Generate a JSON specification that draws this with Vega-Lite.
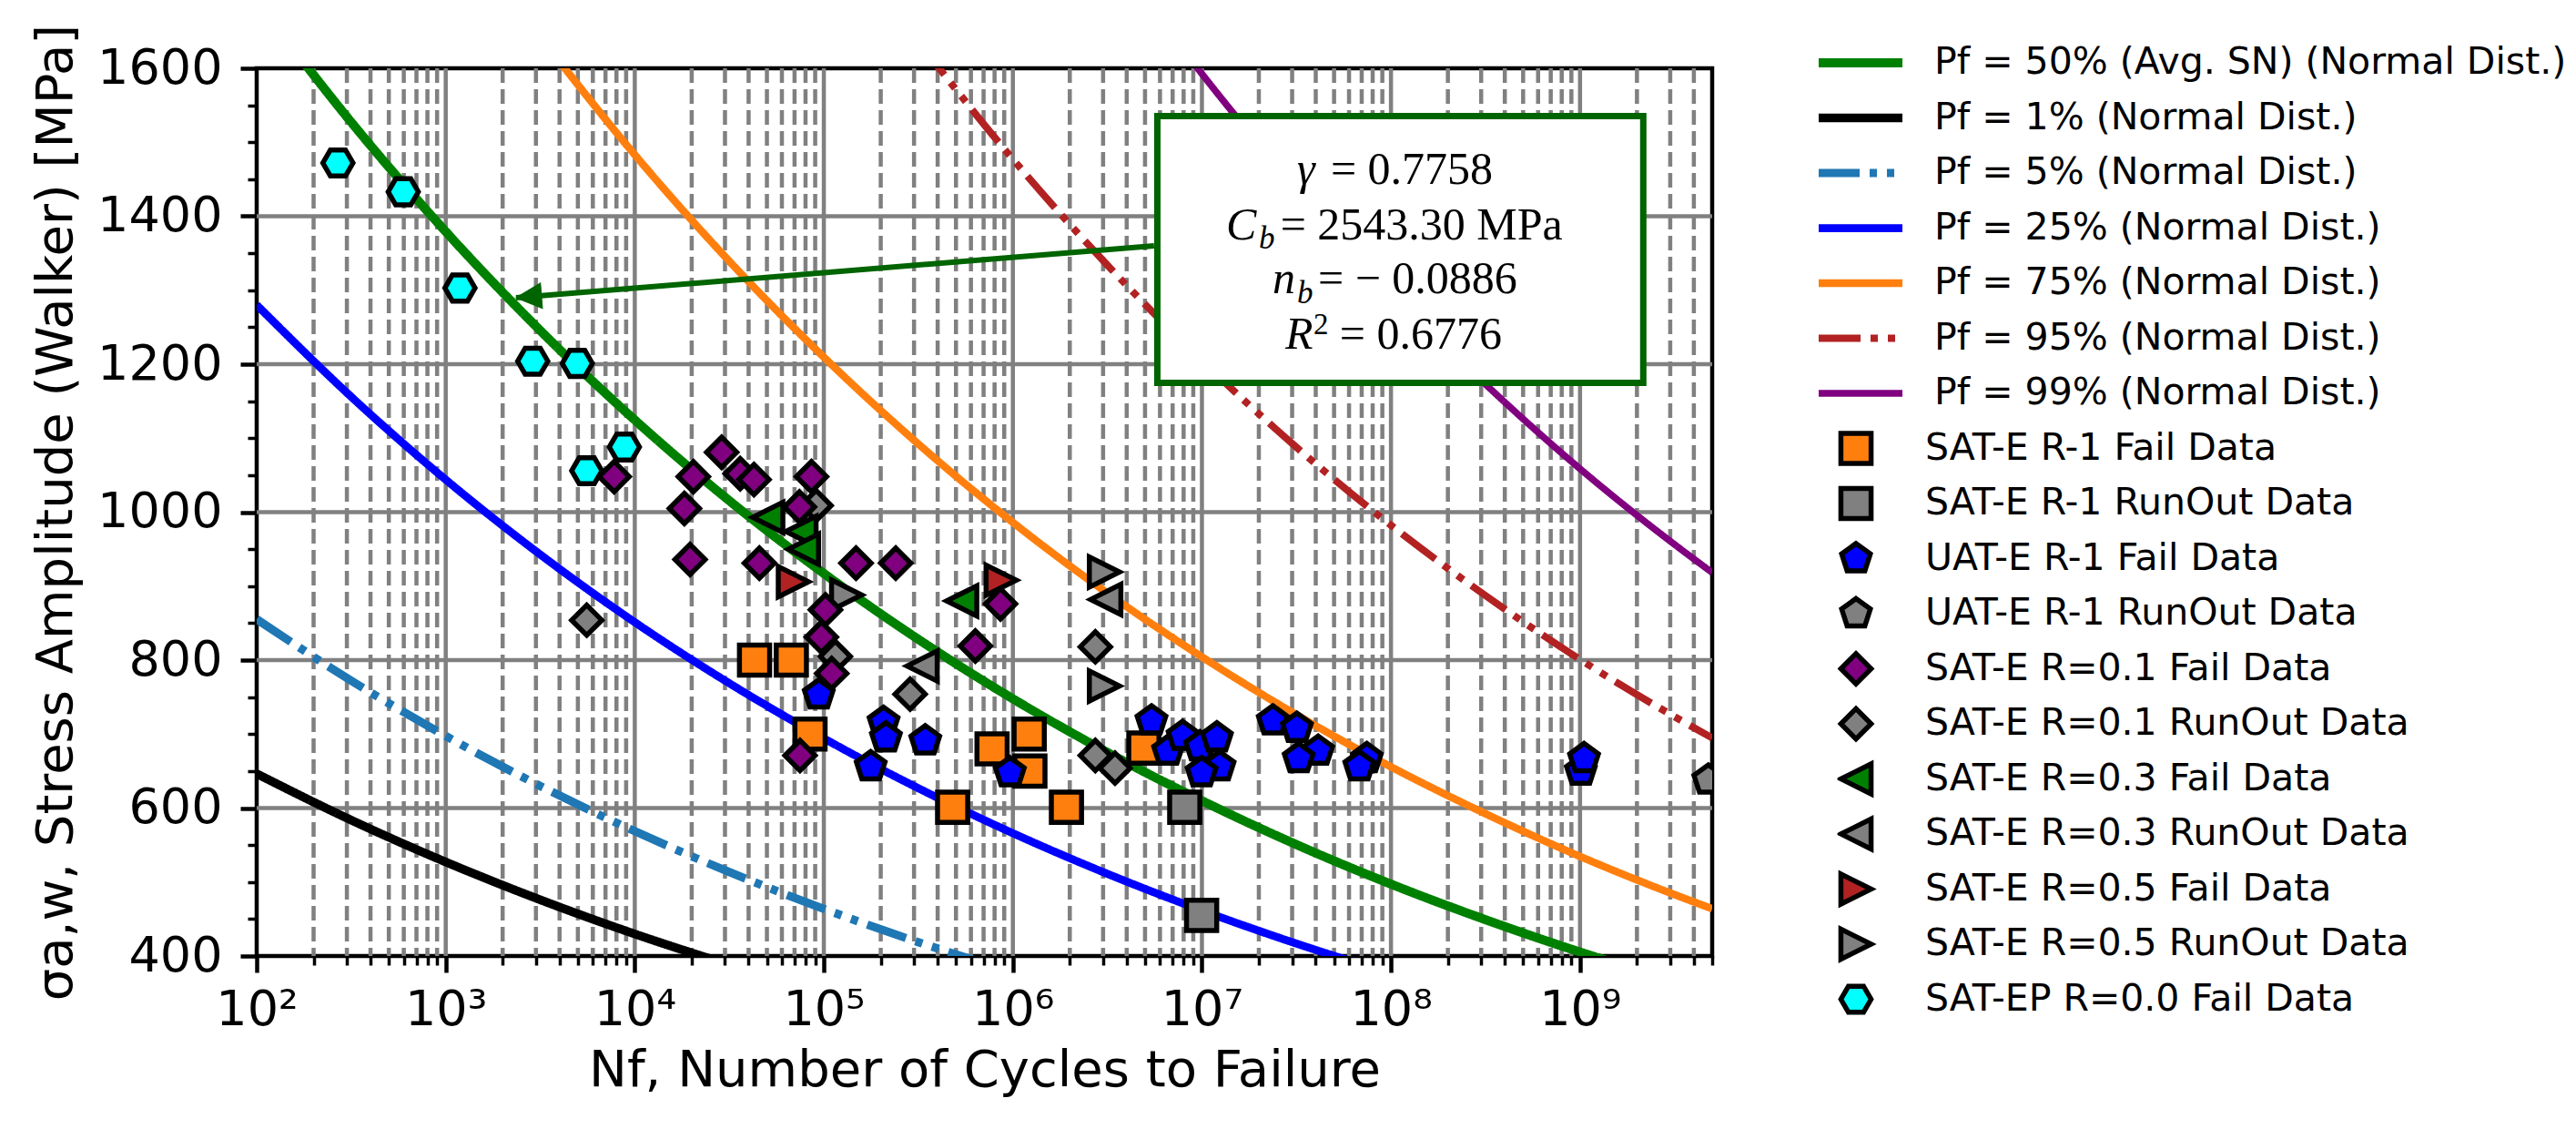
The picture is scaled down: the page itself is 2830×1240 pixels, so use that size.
{
  "$schema": "https://vega.github.io/schema/vega-lite/v6.json",
  "width": 1599,
  "height": 975,
  "autosize": {"type": "none"},
  "padding": {"left": 282, "top": 75, "right": 949, "bottom": 190},
  "background": "white",
  "config": {
    "view": {"stroke": "black", "strokeWidth": 4.5},
    "font": "DejaVu Sans"
  },
  "datasets": {
    "minorX": [
      {"N": 200}, {"N": 300}, {"N": 400}, {"N": 500}, {"N": 600}, {"N": 700}, {"N": 800}, {"N": 900},
      {"N": 2000}, {"N": 3000}, {"N": 4000}, {"N": 5000}, {"N": 6000}, {"N": 7000}, {"N": 8000}, {"N": 9000},
      {"N": 20000}, {"N": 30000}, {"N": 40000}, {"N": 50000}, {"N": 60000}, {"N": 70000}, {"N": 80000}, {"N": 90000},
      {"N": 200000}, {"N": 300000}, {"N": 400000}, {"N": 500000}, {"N": 600000}, {"N": 700000}, {"N": 800000}, {"N": 900000},
      {"N": 2000000}, {"N": 3000000}, {"N": 4000000}, {"N": 5000000}, {"N": 6000000}, {"N": 7000000}, {"N": 8000000}, {"N": 9000000},
      {"N": 20000000}, {"N": 30000000}, {"N": 40000000}, {"N": 50000000}, {"N": 60000000}, {"N": 70000000}, {"N": 80000000}, {"N": 90000000},
      {"N": 200000000}, {"N": 300000000}, {"N": 400000000}, {"N": 500000000}, {"N": 600000000}, {"N": 700000000}, {"N": 800000000}, {"N": 900000000},
      {"N": 2000000000}, {"N": 3000000000}, {"N": 4000000000}
    ],
    "majorX": [
      {"N": 1000}, {"N": 10000}, {"N": 100000}, {"N": 1000000}, {"N": 10000000}, {"N": 100000000}, {"N": 1000000000}
    ],
    "majorY": [{"S": 600}, {"S": 800}, {"S": 1000}, {"S": 1200}, {"S": 1400}],
    "curves": [
      {"series": "Pf = 50% (Avg. SN) (Normal Dist.)", "N": 100, "S": 1691.3},
      {"series": "Pf = 50% (Avg. SN) (Normal Dist.)", "N": 316.23, "S": 1527.2},
      {"series": "Pf = 50% (Avg. SN) (Normal Dist.)", "N": 1000, "S": 1379.2},
      {"series": "Pf = 50% (Avg. SN) (Normal Dist.)", "N": 3162.3, "S": 1245.5},
      {"series": "Pf = 50% (Avg. SN) (Normal Dist.)", "N": 10000, "S": 1124.6},
      {"series": "Pf = 50% (Avg. SN) (Normal Dist.)", "N": 31623, "S": 1015.5},
      {"series": "Pf = 50% (Avg. SN) (Normal Dist.)", "N": 100000, "S": 917.1},
      {"series": "Pf = 50% (Avg. SN) (Normal Dist.)", "N": 316228, "S": 828.1},
      {"series": "Pf = 50% (Avg. SN) (Normal Dist.)", "N": 1000000, "S": 747.7},
      {"series": "Pf = 50% (Avg. SN) (Normal Dist.)", "N": 3162278, "S": 675.2},
      {"series": "Pf = 50% (Avg. SN) (Normal Dist.)", "N": 10000000, "S": 609.9},
      {"series": "Pf = 50% (Avg. SN) (Normal Dist.)", "N": 31622777, "S": 550.6},
      {"series": "Pf = 50% (Avg. SN) (Normal Dist.)", "N": 100000000, "S": 497.2},
      {"series": "Pf = 50% (Avg. SN) (Normal Dist.)", "N": 316227766, "S": 449.1},
      {"series": "Pf = 50% (Avg. SN) (Normal Dist.)", "N": 1000000000, "S": 405.4},
      {"series": "Pf = 50% (Avg. SN) (Normal Dist.)", "N": 3162277660, "S": 366.2},
      {"series": "Pf = 1% (Normal Dist.)", "N": 100, "S": 646.4},
      {"series": "Pf = 1% (Normal Dist.)", "N": 316.23, "S": 583.7},
      {"series": "Pf = 1% (Normal Dist.)", "N": 1000, "S": 527.1},
      {"series": "Pf = 1% (Normal Dist.)", "N": 3162.3, "S": 476.0},
      {"series": "Pf = 1% (Normal Dist.)", "N": 10000, "S": 429.8},
      {"series": "Pf = 1% (Normal Dist.)", "N": 31623, "S": 388.1},
      {"series": "Pf = 5% (Normal Dist.)", "N": 100, "S": 855.2},
      {"series": "Pf = 5% (Normal Dist.)", "N": 316.23, "S": 772.2},
      {"series": "Pf = 5% (Normal Dist.)", "N": 1000, "S": 697.4},
      {"series": "Pf = 5% (Normal Dist.)", "N": 3162.3, "S": 629.8},
      {"series": "Pf = 5% (Normal Dist.)", "N": 10000, "S": 568.7},
      {"series": "Pf = 5% (Normal Dist.)", "N": 31623, "S": 513.5},
      {"series": "Pf = 5% (Normal Dist.)", "N": 100000, "S": 463.7},
      {"series": "Pf = 5% (Normal Dist.)", "N": 316228, "S": 418.7},
      {"series": "Pf = 5% (Normal Dist.)", "N": 1000000, "S": 378.1},
      {"series": "Pf = 25% (Normal Dist.)", "N": 100, "S": 1280.1},
      {"series": "Pf = 25% (Normal Dist.)", "N": 316.23, "S": 1156.0},
      {"series": "Pf = 25% (Normal Dist.)", "N": 1000, "S": 1043.9},
      {"series": "Pf = 25% (Normal Dist.)", "N": 3162.3, "S": 942.7},
      {"series": "Pf = 25% (Normal Dist.)", "N": 10000, "S": 851.2},
      {"series": "Pf = 25% (Normal Dist.)", "N": 31623, "S": 768.7},
      {"series": "Pf = 25% (Normal Dist.)", "N": 100000, "S": 694.2},
      {"series": "Pf = 25% (Normal Dist.)", "N": 316228, "S": 626.8},
      {"series": "Pf = 25% (Normal Dist.)", "N": 1000000, "S": 566.0},
      {"series": "Pf = 25% (Normal Dist.)", "N": 3162278, "S": 511.1},
      {"series": "Pf = 25% (Normal Dist.)", "N": 10000000, "S": 461.6},
      {"series": "Pf = 25% (Normal Dist.)", "N": 31622777, "S": 416.8},
      {"series": "Pf = 25% (Normal Dist.)", "N": 100000000, "S": 376.3},
      {"series": "Pf = 75% (Normal Dist.)", "N": 3162.3, "S": 1642.5},
      {"series": "Pf = 75% (Normal Dist.)", "N": 10000, "S": 1483.1},
      {"series": "Pf = 75% (Normal Dist.)", "N": 31623, "S": 1339.2},
      {"series": "Pf = 75% (Normal Dist.)", "N": 100000, "S": 1209.5},
      {"series": "Pf = 75% (Normal Dist.)", "N": 316228, "S": 1092.1},
      {"series": "Pf = 75% (Normal Dist.)", "N": 1000000, "S": 986.1},
      {"series": "Pf = 75% (Normal Dist.)", "N": 3162278, "S": 890.5},
      {"series": "Pf = 75% (Normal Dist.)", "N": 10000000, "S": 804.3},
      {"series": "Pf = 75% (Normal Dist.)", "N": 31622777, "S": 726.1},
      {"series": "Pf = 75% (Normal Dist.)", "N": 100000000, "S": 655.7},
      {"series": "Pf = 75% (Normal Dist.)", "N": 316227766, "S": 592.3},
      {"series": "Pf = 75% (Normal Dist.)", "N": 1000000000, "S": 534.6},
      {"series": "Pf = 75% (Normal Dist.)", "N": 3162277660, "S": 483.0},
      {"series": "Pf = 75% (Normal Dist.)", "N": 5000000000, "S": 463.9},
      {"series": "Pf = 95% (Normal Dist.)", "N": 316228, "S": 1635.8},
      {"series": "Pf = 95% (Normal Dist.)", "N": 1000000, "S": 1477.1},
      {"series": "Pf = 95% (Normal Dist.)", "N": 3162278, "S": 1333.9},
      {"series": "Pf = 95% (Normal Dist.)", "N": 10000000, "S": 1204.8},
      {"series": "Pf = 95% (Normal Dist.)", "N": 31622777, "S": 1087.7},
      {"series": "Pf = 95% (Normal Dist.)", "N": 100000000, "S": 982.2},
      {"series": "Pf = 95% (Normal Dist.)", "N": 316227766, "S": 887.2},
      {"series": "Pf = 95% (Normal Dist.)", "N": 1000000000, "S": 800.8},
      {"series": "Pf = 95% (Normal Dist.)", "N": 3162277660, "S": 723.5},
      {"series": "Pf = 95% (Normal Dist.)", "N": 5000000000, "S": 694.8},
      {"series": "Pf = 99% (Normal Dist.)", "N": 3162278, "S": 1763.2},
      {"series": "Pf = 99% (Normal Dist.)", "N": 10000000, "S": 1592.5},
      {"series": "Pf = 99% (Normal Dist.)", "N": 31622777, "S": 1437.8},
      {"series": "Pf = 99% (Normal Dist.)", "N": 100000000, "S": 1298.3},
      {"series": "Pf = 99% (Normal Dist.)", "N": 316227766, "S": 1172.8},
      {"series": "Pf = 99% (Normal Dist.)", "N": 1000000000, "S": 1058.6},
      {"series": "Pf = 99% (Normal Dist.)", "N": 3162277660, "S": 956.3},
      {"series": "Pf = 99% (Normal Dist.)", "N": 5000000000, "S": 918.4}
    ],
    "points": [
      {"group": "SAT-E R-1 RunOut Data", "N": 8110000, "S": 601},
      {"group": "SAT-E R-1 RunOut Data", "N": 9960000, "S": 455},
      {"group": "UAT-E R-1 RunOut Data", "N": 4770000000, "S": 638},
      {"group": "SAT-E R=0.1 RunOut Data", "N": 5570, "S": 854},
      {"group": "SAT-E R=0.1 RunOut Data", "N": 91000, "S": 1009},
      {"group": "SAT-E R=0.1 RunOut Data", "N": 115000, "S": 805},
      {"group": "SAT-E R=0.1 RunOut Data", "N": 286000, "S": 754},
      {"group": "SAT-E R=0.1 RunOut Data", "N": 2730000, "S": 818},
      {"group": "SAT-E R=0.1 RunOut Data", "N": 2730000, "S": 671},
      {"group": "SAT-E R=0.1 RunOut Data", "N": 3470000, "S": 654},
      {"group": "SAT-E R=0.3 RunOut Data", "N": 331000, "S": 792},
      {"group": "SAT-E R=0.3 RunOut Data", "N": 3100000, "S": 882},
      {"group": "SAT-E R=0.5 RunOut Data", "N": 132000, "S": 888},
      {"group": "SAT-E R=0.5 RunOut Data", "N": 3050000, "S": 919},
      {"group": "SAT-E R=0.5 RunOut Data", "N": 3050000, "S": 765},
      {"group": "SAT-E R-1 Fail Data", "N": 43000, "S": 800},
      {"group": "SAT-E R-1 Fail Data", "N": 67300, "S": 800},
      {"group": "SAT-E R-1 Fail Data", "N": 84500, "S": 700},
      {"group": "SAT-E R-1 Fail Data", "N": 480000, "S": 601},
      {"group": "SAT-E R-1 Fail Data", "N": 776000, "S": 680},
      {"group": "SAT-E R-1 Fail Data", "N": 1220000, "S": 700},
      {"group": "SAT-E R-1 Fail Data", "N": 1230000, "S": 650},
      {"group": "SAT-E R-1 Fail Data", "N": 1920000, "S": 601},
      {"group": "SAT-E R-1 Fail Data", "N": 4930000, "S": 681},
      {"group": "UAT-E R-1 Fail Data", "N": 94000, "S": 753},
      {"group": "UAT-E R-1 Fail Data", "N": 207000, "S": 716},
      {"group": "UAT-E R-1 Fail Data", "N": 213000, "S": 695},
      {"group": "UAT-E R-1 Fail Data", "N": 344000, "S": 691},
      {"group": "UAT-E R-1 Fail Data", "N": 177000, "S": 656},
      {"group": "UAT-E R-1 Fail Data", "N": 964000, "S": 648},
      {"group": "UAT-E R-1 Fail Data", "N": 5410000, "S": 718},
      {"group": "UAT-E R-1 Fail Data", "N": 6620000, "S": 677},
      {"group": "UAT-E R-1 Fail Data", "N": 7900000, "S": 697},
      {"group": "UAT-E R-1 Fail Data", "N": 9770000, "S": 683},
      {"group": "UAT-E R-1 Fail Data", "N": 12000000, "S": 695},
      {"group": "UAT-E R-1 Fail Data", "N": 12400000, "S": 656},
      {"group": "UAT-E R-1 Fail Data", "N": 9960000, "S": 648},
      {"group": "UAT-E R-1 Fail Data", "N": 23700000, "S": 718},
      {"group": "UAT-E R-1 Fail Data", "N": 31800000, "S": 708},
      {"group": "UAT-E R-1 Fail Data", "N": 41200000, "S": 677},
      {"group": "UAT-E R-1 Fail Data", "N": 32500000, "S": 667},
      {"group": "UAT-E R-1 Fail Data", "N": 74500000, "S": 667},
      {"group": "UAT-E R-1 Fail Data", "N": 68000000, "S": 656},
      {"group": "UAT-E R-1 Fail Data", "N": 1010000000, "S": 650},
      {"group": "UAT-E R-1 Fail Data", "N": 1050000000, "S": 667},
      {"group": "SAT-EP R=0.0 Fail Data", "N": 269, "S": 1472},
      {"group": "SAT-EP R=0.0 Fail Data", "N": 596, "S": 1433},
      {"group": "SAT-EP R=0.0 Fail Data", "N": 1189, "S": 1303},
      {"group": "SAT-EP R=0.0 Fail Data", "N": 2885, "S": 1204},
      {"group": "SAT-EP R=0.0 Fail Data", "N": 4965, "S": 1201},
      {"group": "SAT-EP R=0.0 Fail Data", "N": 8810, "S": 1088},
      {"group": "SAT-EP R=0.0 Fail Data", "N": 5570, "S": 1056},
      {"group": "SAT-E R=0.3 Fail Data", "N": 50500, "S": 993},
      {"group": "SAT-E R=0.3 Fail Data", "N": 75700, "S": 974},
      {"group": "SAT-E R=0.3 Fail Data", "N": 78000, "S": 950},
      {"group": "SAT-E R=0.3 Fail Data", "N": 536000, "S": 880},
      {"group": "SAT-E R=0.5 Fail Data", "N": 69000, "S": 906},
      {"group": "SAT-E R=0.5 Fail Data", "N": 867000, "S": 908},
      {"group": "SAT-E R=0.1 Fail Data", "N": 7780, "S": 1048},
      {"group": "SAT-E R=0.1 Fail Data", "N": 20400, "S": 1048},
      {"group": "SAT-E R=0.1 Fail Data", "N": 18300, "S": 1005},
      {"group": "SAT-E R=0.1 Fail Data", "N": 36100, "S": 1052},
      {"group": "SAT-E R=0.1 Fail Data", "N": 42700, "S": 1044},
      {"group": "SAT-E R=0.1 Fail Data", "N": 28800, "S": 1081},
      {"group": "SAT-E R=0.1 Fail Data", "N": 86000, "S": 1048},
      {"group": "SAT-E R=0.1 Fail Data", "N": 74300, "S": 1007},
      {"group": "SAT-E R=0.1 Fail Data", "N": 19600, "S": 936},
      {"group": "SAT-E R=0.1 Fail Data", "N": 45600, "S": 931},
      {"group": "SAT-E R=0.1 Fail Data", "N": 148000, "S": 931},
      {"group": "SAT-E R=0.1 Fail Data", "N": 240000, "S": 931},
      {"group": "SAT-E R=0.1 Fail Data", "N": 102000, "S": 868},
      {"group": "SAT-E R=0.1 Fail Data", "N": 97000, "S": 831},
      {"group": "SAT-E R=0.1 Fail Data", "N": 110000, "S": 782},
      {"group": "SAT-E R=0.1 Fail Data", "N": 74800, "S": 671},
      {"group": "SAT-E R=0.1 Fail Data", "N": 860000, "S": 876},
      {"group": "SAT-E R=0.1 Fail Data", "N": 633000, "S": 819}
    ],
    "arrowLine": [
      {"N": 5580000, "S": 1360},
      {"N": 2355, "S": 1289.8}
    ],
    "arrowHead": [{"N": 2355, "S": 1289.8}],
    "box": [{"N": 5810000, "N2": 2160000000, "S": 1535.4, "S2": 1174.8}],
    "annot": [
      {"kind": "it", "N": 31840000, "S": 1443.7, "t": "γ"},
      {"kind": "up", "N": 47970000, "S": 1443.7, "t": "= 0.7758"},
      {"kind": "it", "N": 13430000, "S": 1368.6, "t": "C"},
      {"kind": "sub", "N": 20000000, "S": 1356.3, "t": "b"},
      {"kind": "up", "N": 26000000, "S": 1368.6, "t": "= 2543.30 MPa"},
      {"kind": "it", "N": 23600000, "S": 1296, "t": "n"},
      {"kind": "sub", "N": 31840000, "S": 1282.5, "t": "b"},
      {"kind": "up", "N": 41110000, "S": 1296, "t": "= − 0.0886"},
      {"kind": "it", "N": 27610000, "S": 1220.9, "t": "R"},
      {"kind": "sup", "N": 38900000, "S": 1240.6, "t": "2"},
      {"kind": "up", "N": 53580000, "S": 1220.9, "t": "= 0.6776"}
    ]
  },
  "resolve": {"axis": {"x": "independent", "y": "independent"}},
  "layer": [
    {
      "data": {"name": "minorX"},
      "mark": {"type": "rule", "color": "#808080", "strokeWidth": 4.5, "strokeDash": [16, 7]},
      "encoding": {
        "x": {
          "field": "N", "type": "quantitative",
          "scale": {"type": "log", "domain": [100, 5000000000], "nice": false},
          "axis": {
            "orient": "bottom", "title": null, "labels": false, "domain": false, "grid": false,
            "ticks": true, "tickSize": 10, "tickWidth": 3.5, "tickColor": "black",
            "values": [200, 300, 400, 500, 600, 700, 800, 900, 2000, 3000, 4000, 5000, 6000, 7000, 8000, 9000, 20000, 30000, 40000, 50000, 60000, 70000, 80000, 90000, 200000, 300000, 400000, 500000, 600000, 700000, 800000, 900000, 2000000, 3000000, 4000000, 5000000, 6000000, 7000000, 8000000, 9000000, 20000000, 30000000, 40000000, 50000000, 60000000, 70000000, 80000000, 90000000, 200000000, 300000000, 400000000, 500000000, 600000000, 700000000, 800000000, 900000000, 2000000000, 3000000000, 4000000000, 5000000000]
          }
        }
      }
    },
    {
      "data": {"name": "majorX"},
      "mark": {"type": "rule", "color": "#808080", "strokeWidth": 4.5},
      "encoding": {
        "x": {
          "field": "N", "type": "quantitative",
          "scale": {"type": "log", "domain": [100, 5000000000], "nice": false},
          "axis": null
        }
      }
    },
    {
      "data": {"name": "majorY"},
      "mark": {"type": "rule", "color": "#808080", "strokeWidth": 4.5},
      "encoding": {
        "y": {
          "field": "S", "type": "quantitative",
          "scale": {"domain": [400, 1600], "nice": false, "zero": false},
          "axis": {
            "orient": "left", "title": null, "labels": false, "domain": false, "grid": false,
            "ticks": true, "tickSize": 10, "tickWidth": 3.5, "tickColor": "black",
            "values": [450, 500, 550, 650, 700, 750, 850, 900, 950, 1050, 1100, 1150, 1250, 1300, 1350, 1450, 1500, 1550]
          }
        }
      }
    },
    {
      "encoding": {
        "x": {
          "field": "N", "type": "quantitative",
          "scale": {"type": "log", "domain": [100, 5000000000], "nice": false},
          "axis": {
            "orient": "bottom", "grid": false, "domain": false,
            "values": [100, 1000, 10000, 100000, 1000000, 10000000, 100000000, 1000000000],
            "labelExpr": "datum.value == 100 ? '10²' : datum.value == 1000 ? '10³' : datum.value == 10000 ? '10⁴' : datum.value == 100000 ? '10⁵' : datum.value == 1000000 ? '10⁶' : datum.value == 10000000 ? '10⁷' : datum.value == 100000000 ? '10⁸' : '10⁹'",
            "tickSize": 18, "tickWidth": 4.5, "tickColor": "black",
            "labelFont": "DejaVu Sans", "labelFontSize": 54, "labelColor": "black", "labelPadding": 14,
            "labelFlush": false, "labelOverlap": false,
            "title": "Nf, Number of Cycles to Failure",
            "titleFont": "DejaVu Sans", "titleFontSize": 56, "titleFontWeight": "normal", "titleColor": "black", "titlePadding": 12
          }
        },
        "y": {
          "field": "S", "type": "quantitative",
          "scale": {"domain": [400, 1600], "nice": false, "zero": false},
          "axis": {
            "orient": "left", "grid": false, "domain": false, "format": "d",
            "values": [400, 600, 800, 1000, 1200, 1400, 1600],
            "tickSize": 18, "tickWidth": 4.5, "tickColor": "black",
            "labelFont": "DejaVu Sans", "labelFontSize": 54, "labelColor": "black", "labelPadding": 20,
            "labelFlush": false, "labelOverlap": false,
            "title": "σa,w, Stress Amplitude (Walker) [MPa]",
            "titleFont": "DejaVu Sans", "titleFontSize": 56, "titleFontWeight": "normal", "titleColor": "black", "titlePadding": 16
          }
        }
      },
      "layer": [
        {
          "data": {"name": "curves"},
          "mark": {"type": "line", "clip": true, "interpolate": "monotone"},
          "encoding": {
            "color": {
              "field": "series", "type": "nominal",
              "scale": {
                "domain": ["Pf = 50% (Avg. SN) (Normal Dist.)", "Pf = 1% (Normal Dist.)", "Pf = 5% (Normal Dist.)", "Pf = 25% (Normal Dist.)", "Pf = 75% (Normal Dist.)", "Pf = 95% (Normal Dist.)", "Pf = 99% (Normal Dist.)"],
                "range": ["#008000", "#000000", "#1f77b4", "#0000ff", "#ff7f0e", "#b22222", "#800080"]
              },
              "legend": {
                "orient": "none", "legendX": 1711, "legendY": -28.5, "direction": "vertical", "title": null,
                "labelFont": "DejaVu Sans", "labelFontSize": 41, "labelColor": "black", "labelLimit": 2000,
                "symbolType": "stroke", "symbolSize": 8464, "symbolStrokeWidth": 8,
                "clipHeight": 45, "rowPadding": 15.5, "labelOffset": 30, "padding": 0
              }
            },
            "strokeDash": {
              "field": "series", "type": "nominal",
              "scale": {
                "domain": ["Pf = 50% (Avg. SN) (Normal Dist.)", "Pf = 1% (Normal Dist.)", "Pf = 5% (Normal Dist.)", "Pf = 25% (Normal Dist.)", "Pf = 75% (Normal Dist.)", "Pf = 95% (Normal Dist.)", "Pf = 99% (Normal Dist.)"],
                "range": [[1, 0], [1, 0], [45, 11, 8, 11, 8, 11], [1, 0], [1, 0], [46, 11, 8, 11, 8, 11], [1, 0]]
              },
              "legend": {
                "orient": "none", "legendX": 1711, "legendY": -28.5, "direction": "vertical", "title": null,
                "labelFont": "DejaVu Sans", "labelFontSize": 41, "labelColor": "black", "labelLimit": 2000,
                "symbolType": "stroke", "symbolSize": 8464, "symbolStrokeWidth": 8,
                "clipHeight": 45, "rowPadding": 15.5, "labelOffset": 30, "padding": 0
              }
            },
            "strokeWidth": {
              "field": "series", "type": "nominal",
              "scale": {
                "domain": ["Pf = 50% (Avg. SN) (Normal Dist.)", "Pf = 1% (Normal Dist.)", "Pf = 5% (Normal Dist.)", "Pf = 25% (Normal Dist.)", "Pf = 75% (Normal Dist.)", "Pf = 95% (Normal Dist.)", "Pf = 99% (Normal Dist.)"],
                "range": [10, 7.5, 7.5, 7.5, 7.5, 7.5, 7.5]
              },
              "legend": null
            }
          }
        },
        {
          "data": {"name": "points"},
          "mark": {"type": "point", "filled": true, "opacity": 1, "strokeWidth": 5.5, "clip": true},
          "encoding": {
            "fill": {
              "field": "group", "type": "nominal",
              "scale": {
                "domain": ["SAT-E R-1 Fail Data", "SAT-E R-1 RunOut Data", "UAT-E R-1 Fail Data", "UAT-E R-1 RunOut Data", "SAT-E R=0.1 Fail Data", "SAT-E R=0.1 RunOut Data", "SAT-E R=0.3 Fail Data", "SAT-E R=0.3 RunOut Data", "SAT-E R=0.5 Fail Data", "SAT-E R=0.5 RunOut Data", "SAT-EP R=0.0 Fail Data"],
                "range": ["#ff7f0e", "#808080", "#0000ff", "#808080", "#800080", "#808080", "#008000", "#808080", "#b22222", "#808080", "#00ffff"]
              },
              "legend": {
                "orient": "none", "legendX": 1736.5, "legendY": 395, "direction": "vertical", "title": null,
                "labelFont": "DejaVu Sans", "labelFontSize": 41, "labelColor": "black", "labelLimit": 2000,
                "symbolStrokeWidth": 5.5,
                "clipHeight": 45, "rowPadding": 15.5, "labelOffset": 55.5, "padding": 0
              }
            },
            "stroke": {
              "field": "group", "type": "nominal",
              "scale": {
                "domain": ["SAT-E R-1 Fail Data", "SAT-E R-1 RunOut Data", "UAT-E R-1 Fail Data", "UAT-E R-1 RunOut Data", "SAT-E R=0.1 Fail Data", "SAT-E R=0.1 RunOut Data", "SAT-E R=0.3 Fail Data", "SAT-E R=0.3 RunOut Data", "SAT-E R=0.5 Fail Data", "SAT-E R=0.5 RunOut Data", "SAT-EP R=0.0 Fail Data"],
                "range": ["#000000", "#000000", "#000000", "#000000", "#000000", "#000000", "#000000", "#000000", "#000000", "#000000", "#000000"]
              },
              "legend": {
                "orient": "none", "legendX": 1736.5, "legendY": 395, "direction": "vertical", "title": null,
                "labelFont": "DejaVu Sans", "labelFontSize": 41, "labelColor": "black", "labelLimit": 2000,
                "symbolStrokeWidth": 5.5,
                "clipHeight": 45, "rowPadding": 15.5, "labelOffset": 55.5, "padding": 0
              }
            },
            "shape": {
              "field": "group", "type": "nominal",
              "scale": {
                "domain": ["SAT-E R-1 Fail Data", "SAT-E R-1 RunOut Data", "UAT-E R-1 Fail Data", "UAT-E R-1 RunOut Data", "SAT-E R=0.1 Fail Data", "SAT-E R=0.1 RunOut Data", "SAT-E R=0.3 Fail Data", "SAT-E R=0.3 RunOut Data", "SAT-E R=0.5 Fail Data", "SAT-E R=0.5 RunOut Data", "SAT-EP R=0.0 Fail Data"],
                "range": ["square", "square", "M0,-1L0.951,-0.309L0.588,0.809L-0.588,0.809L-0.951,-0.309Z", "M0,-1L0.951,-0.309L0.588,0.809L-0.588,0.809L-0.951,-0.309Z", "diamond", "diamond", "M-1,0L1,-1L1,1Z", "M-1,0L1,-1L1,1Z", "M1,0L-1,-1L-1,1Z", "M1,0L-1,-1L-1,1Z", "M1,0L0.5,0.866L-0.5,0.866L-1,0L-0.5,-0.866L0.5,-0.866Z"]
              },
              "legend": {
                "orient": "none", "legendX": 1736.5, "legendY": 395, "direction": "vertical", "title": null,
                "labelFont": "DejaVu Sans", "labelFontSize": 41, "labelColor": "black", "labelLimit": 2000,
                "symbolStrokeWidth": 5.5,
                "clipHeight": 45, "rowPadding": 15.5, "labelOffset": 55.5, "padding": 0
              }
            },
            "size": {
              "field": "group", "type": "nominal",
              "scale": {
                "domain": ["SAT-E R-1 Fail Data", "SAT-E R-1 RunOut Data", "UAT-E R-1 Fail Data", "UAT-E R-1 RunOut Data", "SAT-E R=0.1 Fail Data", "SAT-E R=0.1 RunOut Data", "SAT-E R=0.3 Fail Data", "SAT-E R=0.3 RunOut Data", "SAT-E R=0.5 Fail Data", "SAT-E R=0.5 RunOut Data", "SAT-EP R=0.0 Fail Data"],
                "range": [1100, 1100, 960, 960, 1600, 1600, 1000, 1000, 1000, 1000, 1000]
              },
              "legend": {
                "orient": "none", "legendX": 1736.5, "legendY": 395, "direction": "vertical", "title": null,
                "labelFont": "DejaVu Sans", "labelFontSize": 41, "labelColor": "black", "labelLimit": 2000,
                "symbolStrokeWidth": 5.5,
                "clipHeight": 45, "rowPadding": 15.5, "labelOffset": 55.5, "padding": 0
              }
            }
          }
        },
        {
          "data": {"name": "arrowLine"},
          "mark": {"type": "line", "color": "#006400", "strokeWidth": 6},
          "encoding": {}
        },
        {
          "data": {"name": "arrowHead"},
          "mark": {"type": "point", "shape": "M0,0L1,-0.5L1,0.5Z", "size": 3136, "filled": true, "fill": "#006400", "stroke": "#006400", "strokeWidth": 1, "opacity": 1, "angle": 355.35},
          "encoding": {}
        },
        {
          "data": {"name": "box"},
          "mark": {"type": "rect", "fill": "white", "stroke": "#006400", "strokeWidth": 7},
          "encoding": {
            "x2": {"field": "N2"},
            "y2": {"field": "S2"}
          }
        },
        {
          "data": {"name": "annot"},
          "transform": [{"filter": "datum.kind == 'up'"}],
          "mark": {"type": "text", "align": "left", "baseline": "alphabetic", "font": "Liberation Serif", "fontSize": 50, "color": "black"},
          "encoding": {"text": {"field": "t"}}
        },
        {
          "data": {"name": "annot"},
          "transform": [{"filter": "datum.kind == 'it'"}],
          "mark": {"type": "text", "align": "left", "baseline": "alphabetic", "font": "Liberation Serif", "fontStyle": "italic", "fontSize": 50, "color": "black"},
          "encoding": {"text": {"field": "t"}}
        },
        {
          "data": {"name": "annot"},
          "transform": [{"filter": "datum.kind == 'sub'"}],
          "mark": {"type": "text", "align": "left", "baseline": "alphabetic", "font": "Liberation Serif", "fontStyle": "italic", "fontSize": 35, "color": "black"},
          "encoding": {"text": {"field": "t"}}
        },
        {
          "data": {"name": "annot"},
          "transform": [{"filter": "datum.kind == 'sup'"}],
          "mark": {"type": "text", "align": "left", "baseline": "alphabetic", "font": "Liberation Serif", "fontSize": 33, "color": "black"},
          "encoding": {"text": {"field": "t"}}
        }
      ]
    }
  ]
}
